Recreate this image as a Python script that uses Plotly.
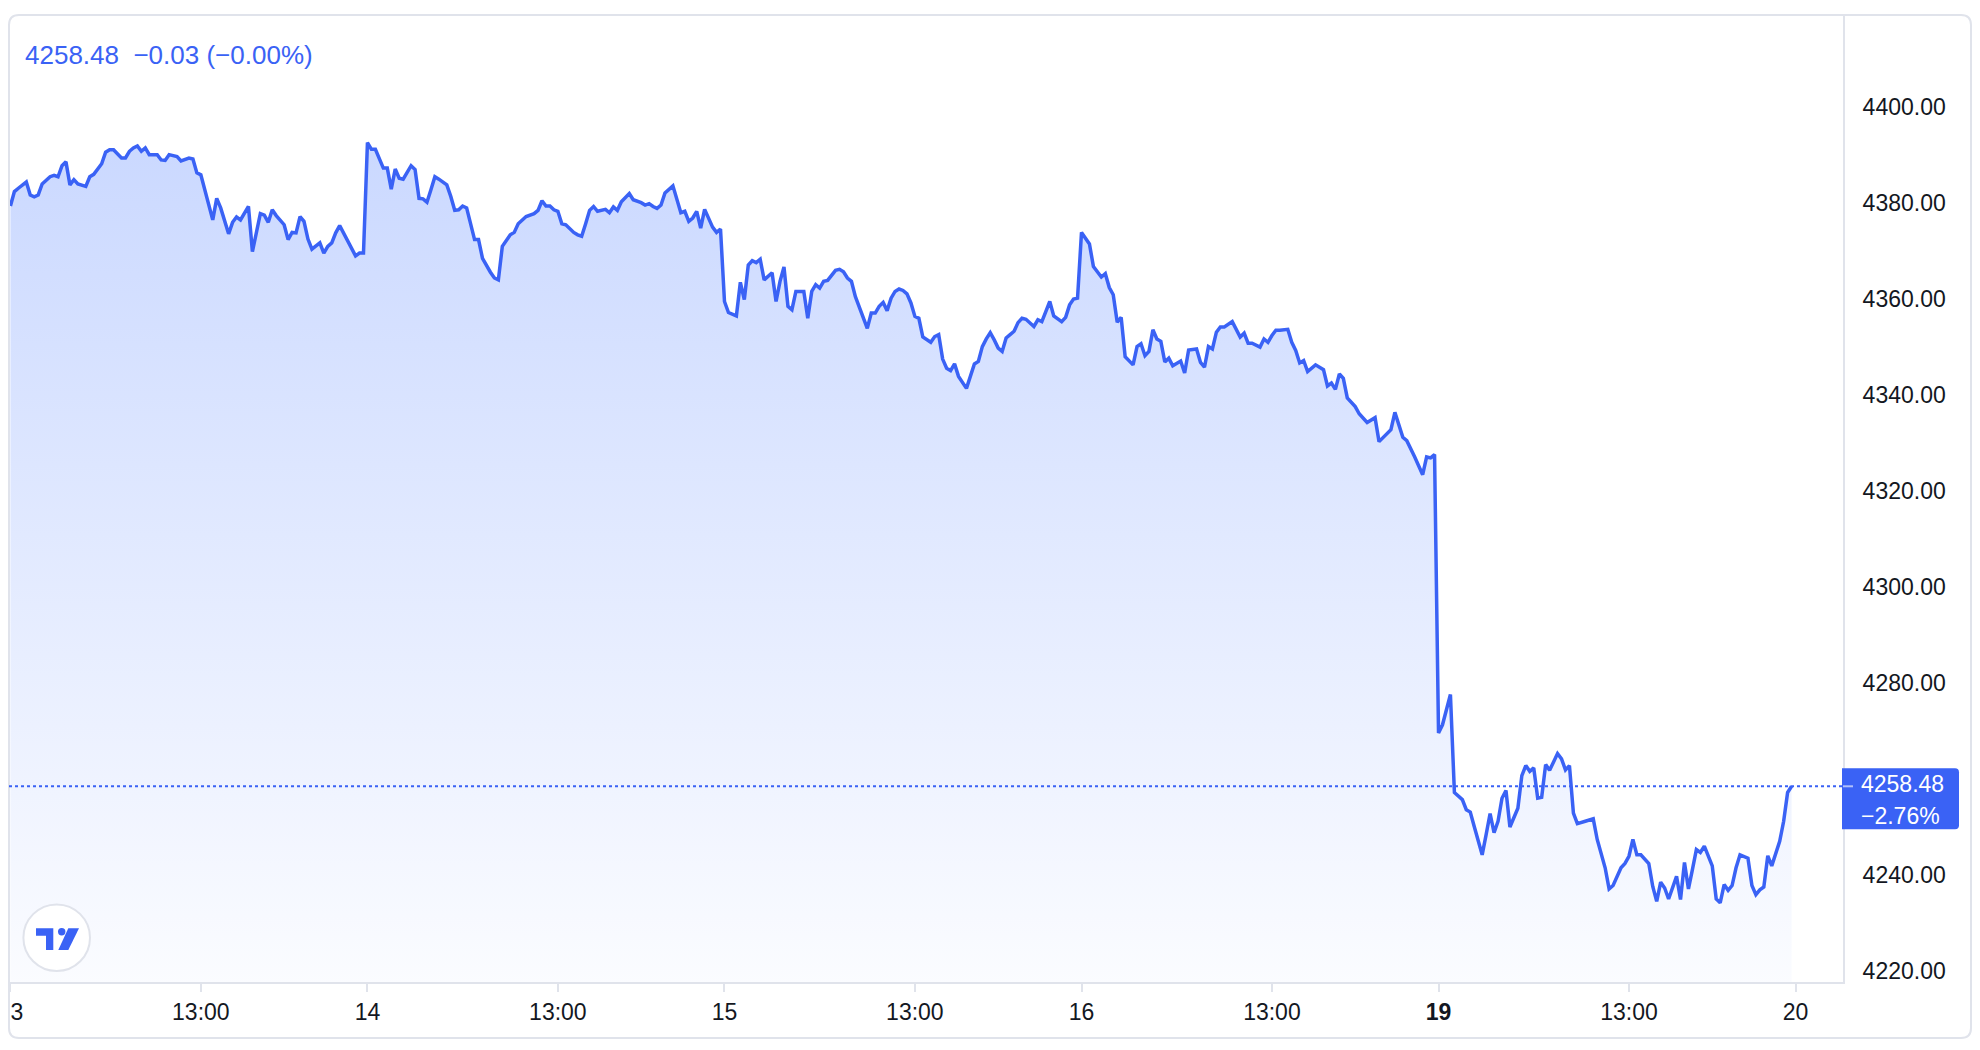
import plotly.graph_objects as go

# ---------------- data ----------------
day_labels = ["13", "14", "15", "16", "<b>19</b>"]
next_day_label = "20"
midday_label = "13:00"
session_minutes = 450      # 09:00 - 16:30
midday_offset = 240        # 13:00 after the 09:00 open

# minutes after the open / close values, one list pair per session
d13_min = [0, 5, 10, 20, 25, 30, 35, 40, 50, 55, 60, 65, 70, 75, 80, 85, 95, 100, 105, 110, 115, 120, 125, 130,
           140, 145, 150, 155, 160, 165, 170, 175, 185, 190, 195, 200, 210, 215, 220, 225, 230, 235, 240, 245,
           255, 260, 265, 275, 280, 285, 290, 300, 305, 315, 320, 325, 330, 335, 345, 350, 355, 360, 365, 370,
           375, 380, 390, 395, 400, 405, 410, 415, 425, 430, 435, 440, 445]
d13_val = [4379.4, 4382.4, 4383.1, 4384.4, 4381.7, 4381.3, 4381.7, 4384.0, 4385.5, 4385.8, 4385.5, 4387.8,
           4388.6, 4383.8, 4384.9, 4384.0, 4383.5, 4385.5, 4386.0, 4387.1, 4388.2, 4390.6, 4391.1, 4391.1,
           4389.4, 4389.4, 4390.8, 4391.5, 4391.9, 4390.8, 4391.5, 4390.1, 4390.1, 4389.0, 4388.9, 4390.1,
           4389.7, 4388.8, 4389.2, 4389.4, 4389.2, 4386.3, 4385.9, 4382.8, 4376.5, 4381.0, 4379.0, 4373.6,
           4376.0, 4377.1, 4376.5, 4379.3, 4369.9, 4377.8, 4377.5, 4376.0, 4378.6, 4377.4, 4375.5, 4372.4,
           4373.9, 4373.8, 4377.2, 4376.2, 4372.5, 4370.4, 4371.7, 4369.6, 4371.0, 4371.7, 4373.8, 4375.3,
           4372.0, 4370.3, 4369.0, 4369.6, 4369.6]

d14_min = [0, 5, 10, 20, 25, 30, 35, 40, 45, 55, 60, 65, 70, 75, 80, 85, 90, 100, 105, 110, 115, 120, 125, 135,
           140, 145, 155, 160, 165, 170, 180, 185, 190, 195, 200, 210, 215, 220, 225, 230, 235, 240, 245, 250,
           260, 265, 270, 275, 280, 285, 290, 300, 305, 310, 315, 320, 330, 335, 345, 350, 355, 360, 365, 370,
           375, 385, 390, 395, 400, 405, 410, 415, 420, 425, 435, 440, 445]
d14_val = [4392.6, 4391.2, 4391.2, 4387.3, 4387.3, 4382.9, 4387.1, 4385.2, 4385.0, 4387.8, 4387.0, 4381.0,
           4380.9, 4380.2, 4382.8, 4385.5, 4385.0, 4383.8, 4381.4, 4378.5, 4378.6, 4379.4, 4379.0, 4372.4,
           4372.4, 4368.5, 4365.6, 4364.4, 4364.0, 4371.0, 4373.4, 4373.9, 4375.7, 4376.4, 4377.2, 4377.8,
           4378.5, 4380.5, 4379.4, 4379.4, 4378.6, 4378.3, 4375.7, 4375.5, 4373.9, 4373.4, 4373.1, 4375.7,
           4378.5, 4379.3, 4378.3, 4378.7, 4378.0, 4379.2, 4378.5, 4380.3, 4382.0, 4380.7, 4380.1, 4379.6,
           4379.9, 4379.3, 4378.9, 4379.6, 4382.1, 4383.6, 4380.7, 4378.0, 4378.3, 4376.2, 4376.9, 4378.3,
           4374.8, 4378.7, 4375.0, 4373.9, 4374.6]

d15_min = [0, 5, 15, 20, 25, 30, 35, 40, 45, 50, 60, 65, 70, 75, 80, 85, 90, 100, 105, 110, 115, 120, 125, 130,
           140, 145, 150, 155, 160, 165, 175, 180, 185, 190, 195, 200, 205, 210, 215, 220, 225, 230, 235, 240,
           245, 250, 260, 265, 270, 275, 280, 285, 290, 295, 305, 310, 315, 320, 325, 330, 335, 340, 345, 350,
           355, 360, 365, 370, 375, 380, 390, 395, 400, 405, 410, 415, 425, 430, 435, 440, 445]
d15_val = [4359.5, 4357.2, 4356.5, 4363.5, 4359.9, 4367.1, 4368.0, 4367.6, 4368.3, 4364.0, 4365.5, 4359.5,
           4363.7, 4366.7, 4358.5, 4357.8, 4361.6, 4361.6, 4356.0, 4361.6, 4363.0, 4362.3, 4363.7, 4363.9,
           4366.0, 4366.2, 4365.7, 4364.4, 4363.7, 4360.5, 4356.4, 4353.9, 4357.1, 4357.1, 4358.5, 4359.3,
           4357.6, 4360.2, 4361.6, 4362.1, 4361.8, 4361.1, 4359.2, 4356.4, 4356.0, 4352.1, 4351.0, 4352.2,
           4352.6, 4347.5, 4345.6, 4345.1, 4346.5, 4343.9, 4341.4, 4344.2, 4346.5, 4347.0, 4350.1, 4351.7,
           4353.0, 4351.5, 4349.8, 4349.1, 4351.9, 4352.6, 4353.3, 4355.1, 4356.0, 4355.8, 4354.3, 4355.7,
           4355.3, 4357.4, 4359.5, 4356.5, 4355.3, 4356.2, 4358.8, 4360.0, 4360.2]

d16_min = [0, 10, 15, 25, 30, 35, 40, 45, 50, 55, 65, 70, 75, 80, 85, 90, 95, 100, 105, 110, 115, 120, 125, 130,
           135, 145, 150, 155, 160, 165, 170, 175, 180, 190, 195, 200, 205, 210, 215, 225, 230, 235, 240, 245,
           250, 260, 265, 270, 275, 280, 285, 295, 305, 310, 315, 320, 325, 330, 335, 345, 350, 360, 370, 375,
           390, 395, 405, 410, 420, 430, 435, 440, 445]
d16_val = [4373.9, 4371.5, 4366.8, 4364.6, 4365.3, 4362.4, 4360.9, 4355.2, 4356.2, 4348.0, 4346.3, 4350.1,
           4350.7, 4348.2, 4349.1, 4353.6, 4351.7, 4351.2, 4346.9, 4347.7, 4346.1, 4346.7, 4347.1, 4344.6,
           4349.4, 4349.6, 4346.8, 4345.8, 4350.1, 4349.6, 4353.1, 4354.2, 4354.2, 4355.3, 4353.6, 4352.1,
           4352.9, 4350.8, 4350.8, 4350.0, 4351.7, 4351.0, 4352.4, 4353.5, 4353.5, 4353.7, 4351.0, 4349.3,
           4346.7, 4347.2, 4344.9, 4346.3, 4345.3, 4341.9, 4342.5, 4341.2, 4344.4, 4343.5, 4339.4, 4337.6,
           4336.1, 4334.3, 4335.3, 4330.3, 4332.8, 4336.4, 4331.2, 4330.5, 4327.1, 4323.4, 4327.1, 4326.9,
           4327.6]

d19_min = [0, 5, 15, 20, 30, 35, 40, 45, 55, 60, 65, 70, 75, 80, 85, 90, 100, 105, 110, 115, 120, 125, 130, 135,
           140, 150, 155, 160, 165, 170, 175, 185, 195, 200, 205, 210, 215, 220, 230, 235, 240, 245, 250, 255,
           265, 270, 275, 280, 285, 290, 300, 305, 310, 315, 320, 325, 330, 335, 345, 350, 355, 360, 365, 370,
           375, 380, 390, 395, 400, 405, 410, 415, 420, 430, 435, 440, 445]
d19_val = [4269.6, 4271.3, 4277.6, 4257.2, 4255.7, 4253.6, 4253.1, 4250.1, 4244.2, 4248.4, 4252.8, 4248.8,
           4251.2, 4256.0, 4257.6, 4250.0, 4253.9, 4260.7, 4262.8, 4261.6, 4262.3, 4256.0, 4256.2, 4263.0,
           4261.8, 4265.3, 4264.2, 4261.9, 4262.8, 4252.9, 4250.7, 4251.2, 4251.7, 4247.4, 4244.6, 4241.5,
           4237.1, 4237.8, 4241.5, 4242.4, 4243.9, 4247.4, 4244.2, 4244.2, 4242.4, 4237.6, 4234.5, 4238.5,
           4237.3, 4235.0, 4239.7, 4234.9, 4242.6, 4237.1, 4241.1, 4245.3, 4244.7, 4246.0, 4241.9, 4235.0,
           4234.2, 4238.0, 4236.8, 4237.8, 4241.5, 4244.2, 4243.5, 4237.8, 4235.9, 4236.9, 4237.5, 4244.0,
           4241.9, 4247.0, 4251.2, 4257.2, 4258.48]

last_price = 4258.48
header_price = "4258.48"
header_change = "\u22120.03 (\u22120.00%)"
badge_price = "4258.48"
badge_change = "\u22122.76%"
# 4260.00 sits behind the last-price badge in the reference, so it is not listed
y_ticks = [4220, 4240, 4280, 4300, 4320, 4340, 4360, 4380, 4400]

# ---------------- build ----------------
days_min = [d13_min, d14_min, d15_min, d16_min, d19_min]
days_val = [d13_val, d14_val, d15_val, d16_val, d19_val]
xs, ys = [], []
for i, (mins, vals) in enumerate(zip(days_min, days_val)):
    if len(mins) != len(vals):
        raise ValueError(f"length mismatch on day {day_labels[i]}: {len(mins)} vs {len(vals)}")
    xs += [i * session_minutes + m for m in mins]
    ys += vals

tickvals, ticktext = [], []
for i, lab in enumerate(day_labels):
    tickvals += [i * session_minutes, i * session_minutes + midday_offset]
    ticktext += [lab, midday_label]
tickvals.append(len(day_labels) * session_minutes)
ticktext.append(next_day_label)

BLUE = "#3A62F5"
BORDER = "#E0E3EB"
TEXT = "#131722"
FONT = "Liberation Sans, Arial, sans-serif"

Y_RANGE = [4217.7, 4419.2]
X_RANGE = [-1.8, 2309.8]

fig = go.Figure()
fig.add_trace(go.Scatter(
    x=xs, y=ys, mode="lines",
    line=dict(color=BLUE, width=3.5),
    fill="tozeroy",
    fillgradient=dict(type="vertical",
                      colorscale=[[0, "rgba(41,98,255,0.02)"], [1, "rgba(41,98,255,0.28)"]],
                      start=Y_RANGE[0], stop=Y_RANGE[1]),
    hoverinfo="skip",
))

# card geometry (pixels relative to plot-area bottom-left)
W, TOP, BOT, R = 1962, 967, -56, 10
card_path = (f"M {R},{TOP} L {W-R},{TOP} Q {W},{TOP} {W},{TOP-R} L {W},{BOT+R} Q {W},{BOT} {W-R},{BOT} "
             f"L {R},{BOT} Q 0,{BOT} 0,{BOT+R} L 0,{TOP-R} Q 0,{TOP} {R},{TOP} Z")

px_paper = dict(xref="paper", yref="paper", xsizemode="pixel", ysizemode="pixel", xanchor=0, yanchor=0)

shapes = [
    # the card edge clips the first day label, as in the reference
    dict(type="rect", x0=-20, x1=-1, y0=-60, y1=0, fillcolor="white", line=dict(width=0),
         layer="above", **px_paper),
    dict(type="path", path=card_path, line=dict(color=BORDER, width=2), fillcolor="rgba(0,0,0,0)",
         layer="above", **px_paper),
    dict(type="line", xref="paper", x0=0, x1=1, yref="y", y0=last_price, y1=last_price,
         line=dict(color=BLUE, width=2, dash="dot"), layer="above"),
    dict(type="path", xref="paper", xsizemode="pixel", xanchor=1, yref="y", ysizemode="pixel",
         yanchor=last_price,
         path="M -1,18 L 112,18 Q 116,18 116,14 L 116,-39 Q 116,-43 112,-43 L -1,-43 Z",
         fillcolor=BLUE, line=dict(width=0), layer="above"),
    dict(type="line", xref="paper", xsizemode="pixel", xanchor=1, x0=0, x1=10, yref="y",
         y0=last_price, y1=last_price, line=dict(color="rgba(255,255,255,0.6)", width=2), layer="above"),
    # logo
    dict(type="circle", x0=14.4, x1=81, y0=11, y1=77.6, line=dict(color=BORDER, width=2),
         fillcolor="white", layer="above", **px_paper),
    dict(type="path", path="M 27,53.7 L 44.3,53.7 L 44.3,32 L 37,32 L 37,46.3 L 27,46.3 Z",
         fillcolor=BLUE, line=dict(width=0), layer="above", **px_paper),
    dict(type="circle", x0=49, x1=56.4, y0=46.6, y1=54, fillcolor=BLUE, line=dict(width=0),
         layer="above", **px_paper),
    dict(type="path", path="M 59.3,53.7 L 70,53.7 L 59.3,32 L 49.3,32 Z",
         fillcolor=BLUE, line=dict(width=0), layer="above", **px_paper),
]

annotations = [
    dict(xref="paper", yref="paper", x=0, y=1, xanchor="left", yanchor="middle", xshift=14, yshift=-40,
         text=header_price + "\u00a0\u00a0" + header_change, showarrow=False,
         font=dict(family=FONT, size=26, color=BLUE)),
    dict(xref="paper", yref="y", x=1, y=last_price, xanchor="left", yanchor="middle", xshift=16, yshift=2,
         text=badge_price, showarrow=False, font=dict(family=FONT, size=23, color="white")),
    dict(xref="paper", yref="y", x=1, y=last_price, xanchor="left", yanchor="middle", xshift=16, yshift=-30,
         text=badge_change, showarrow=False, font=dict(family=FONT, size=23, color="white")),
]

fig.update_layout(
    width=1980, height=1050,
    margin=dict(l=9, r=137, t=15, b=68, autoexpand=False),
    paper_bgcolor="white", plot_bgcolor="white",
    showlegend=False,
    font=dict(family=FONT, color=TEXT),
    shapes=shapes, annotations=annotations,
    xaxis=dict(range=X_RANGE, tickvals=tickvals, ticktext=ticktext, ticks="outside", ticklen=8, tickwidth=2,
               tickcolor=BORDER, showgrid=False, zeroline=False, showline=True, linecolor=BORDER,
               linewidth=2, tickfont=dict(family=FONT, size=23, color=TEXT), ticklabeloverflow="allow",
               automargin=False, fixedrange=True),
    yaxis=dict(side="right", range=Y_RANGE, tickvals=y_ticks, tickformat=".2f", ticks="", showgrid=False,
               zeroline=False, showline=True, linecolor=BORDER, linewidth=2,
               tickfont=dict(family=FONT, size=23, color=TEXT), ticklabelstandoff=13,
               automargin=False, fixedrange=True),
)

fig.write_html("out.html",
               config={"displayModeBar": False, "staticPlot": True},
               post_script="document.body.style.margin='0px';document.body.style.overflow='hidden';")
